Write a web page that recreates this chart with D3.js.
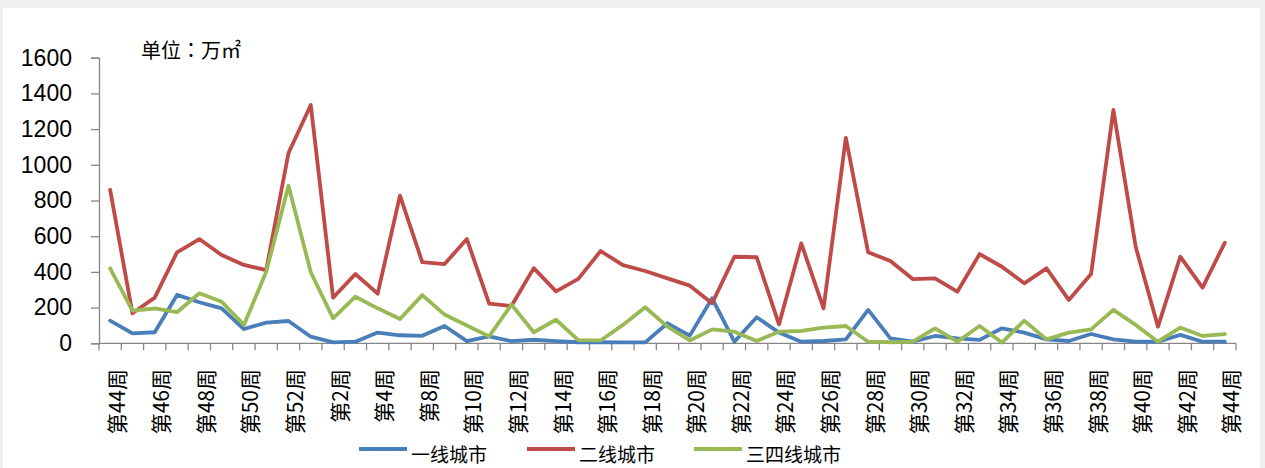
<!DOCTYPE html>
<html>
<head>
<meta charset="utf-8">
<script src="https://cdn.jsdelivr.net/npm/d3@7"></script>
<style>
  html, body { margin: 0; padding: 0; background: #efefef; }
  svg { display: block; }
</style>
</head>
<body>
<svg id="chart" width="1265" height="468"></svg>
<script>
const categories = ["第44周","第45周","第46周","第47周","第48周","第49周","第50周","第51周","第52周",
  "第1周","第2周","第3周","第4周","第7周",
  "第8周","第9周","第10周","第11周","第12周","第13周","第14周","第15周","第16周","第17周","第18周",
  "第19周","第20周","第21周","第22周","第23周","第24周","第25周","第26周","第27周","第28周","第29周",
  "第30周","第31周","第32周","第33周","第34周","第35周","第36周","第37周","第38周","第39周","第40周",
  "第41周","第42周","第43周","第44周"];

const tier1 = [127,56,62,271,230,196,80,116,125,37,5,9,60,45,42,97,12,39,12,20,12,6,6,5,5,
  112,43,252,9,146,60,9,13,22,187,28,9,41,28,19,84,60,22,13,52,22,9,9,47,9,9];

const tier2 = [860,168,256,510,584,495,439,410,1066,1335,256,388,278,827,455,444,584,222,209,421,
  291,361,517,438,405,364,323,224,485,482,106,560,196,1151,510,461,360,364,289,500,429,336,420,
  243,388,1307,541,93,485,312,564];

const tier34 = [420,183,195,174,280,233,103,401,883,398,140,261,196,136,270,161,100,39,217,62,
  132,18,16,103,202,93,16,78,65,13,65,69,88,97,9,6,9,84,9,97,4,127,22,60,78,187,103,9,88,41,52];

const yTicks = [0,200,400,600,800,1000,1200,1400,1600];
const seriesNames = ["一线城市","二线城市","三四线城市"];
const seriesColors = ["#4A7EBB","#BE4B48","#98B954"];
const unitLabel = "单位：万㎡";

const seriesData = [tier1, tier2, tier34];

const svg = d3.select("#chart");
svg.append("rect").attr("x",3).attr("y",8).attr("width",1257).attr("height",460).attr("fill","#ffffff");

const x0 = 99, x1 = 1236, yTop = 57.7, yBot = 343.3;
const x = d3.scaleBand().domain(d3.range(categories.length)).range([x0, x1]).padding(0);
const y = d3.scaleLinear().domain([0,1600]).range([yBot, yTop]);
const bw = x.bandwidth();
const axisColor = "#868686";

// Y axis
const yAxis = d3.axisLeft(y).tickValues(yTicks).tickSize(8).tickPadding(19).tickFormat(d3.format("d"));
const yg = svg.append("g").attr("transform", `translate(${x0},0)`).call(yAxis);
yg.select(".domain").attr("stroke", axisColor).attr("stroke-width", 1.3);
yg.selectAll(".tick line").attr("stroke", axisColor).attr("stroke-width", 1.3);
yg.selectAll(".tick text").attr("fill","#000").style("font-family","'Liberation Sans', Arial, sans-serif").style("font-size","23px");

// X axis baseline
svg.append("line").attr("x1", x0).attr("x2", x1).attr("y1", yBot).attr("y2", yBot)
  .attr("stroke", axisColor).attr("stroke-width", 1.3);
// X ticks at band boundaries
const tickPos = d3.range(categories.length).map(i => x(i)).concat([x1]);
svg.append("g").selectAll("line").data(tickPos).join("line")
  .attr("x1", d => d).attr("x2", d => d).attr("y1", yBot).attr("y2", yBot + 7)
  .attr("stroke", axisColor).attr("stroke-width", 1.3);

// X labels every other category, rotated
svg.append("g").selectAll("text")
  .data(categories.map((c,i) => ({c,i})).filter(d => d.i % 2 === 0))
  .join("text")
  .attr("transform", d => `translate(${x(d.i) + bw/2 + 5.5},369) rotate(-90)`)
  .attr("text-anchor","end")
  .attr("dominant-baseline","central")
  .style("font-family","'Noto Sans CJK SC', sans-serif")
  .style("font-size","21px")
  .attr("fill","#000")
  .text(d => d.c);

// Lines
const line = d3.line().x((d,i) => x(i) + bw/2).y(d => y(d));
svg.append("g").selectAll("path").data(seriesData).join("path")
  .attr("d", d => line(d))
  .attr("fill","none")
  .attr("stroke", (d,i) => seriesColors[i])
  .attr("stroke-width", 3.8)
  .attr("stroke-linejoin","round")
  .attr("stroke-linecap","round");

// Unit label
svg.append("text").attr("x",141).attr("y",49).attr("dominant-baseline","central")
  .style("font-family","'Noto Sans CJK TC', sans-serif").style("font-size","20px")
  .attr("fill","#000").text(unitLabel);

// Legend
const legendX = [359, 527, 694];
const lg = svg.append("g").selectAll("g").data(seriesNames).join("g")
  .attr("transform", (d,i) => `translate(${legendX[i]},449)`);
lg.append("line").attr("x1",0).attr("x2",48).attr("y1",0).attr("y2",0)
  .attr("stroke",(d,i) => seriesColors[i]).attr("stroke-width",3.8);
lg.append("text").attr("x",52).attr("y",4).attr("dominant-baseline","central")
  .style("font-family","'Noto Sans CJK SC', sans-serif").style("font-size","19px")
  .attr("fill","#000").text(d => d);
</script>
</body>
</html>
